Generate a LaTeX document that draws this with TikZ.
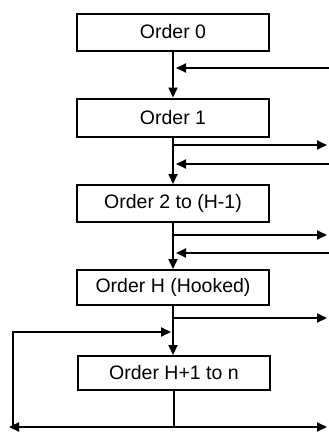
\documentclass[tikz,border=0pt]{standalone}
\usepackage{fontspec}
\setmainfont{Liberation Sans}
\usetikzlibrary{arrows.meta}
\begin{document}
\begin{tikzpicture}[x=1pt,y=-1pt,
  box/.style={draw,line width=2pt,minimum width=192pt,inner sep=0pt,font=\fontsize{19.5}{21}\selectfont},
  ln/.style={line width=2pt},
  ar/.style={ln,-{Triangle[length=10pt,width=9pt]}}]
\useasboundingbox (0,0) rectangle (329,432);
\node[box,minimum height=37pt] (b0) at (173,32) {Order 0};
\node[box,minimum height=38pt] (b1) at (173,117.5) {Order 1};
\node[box,minimum height=37pt] (b2) at (173,203.5) {Order 2 to (H-1)};
\node[box,minimum height=35pt] (bH) at (173,287.5) {Order H (Hooked)};
\node[box,minimum height=34pt] (bH1) at (174,373) {Order H+1 to n};
% right side coordinates
\coordinate (r0) at (329,68);
\coordinate (m0) at (176,68);
\coordinate (o1) at (327,145);
\coordinate (s1) at (173,145);
\coordinate (r1) at (329,164);
\coordinate (m1) at (176,164);
\coordinate (o2) at (327,235);
\coordinate (s2) at (173,235);
\coordinate (r2) at (329,253);
\coordinate (m2) at (176,253);
\coordinate (oH) at (327,318);
\coordinate (sH) at (173,318);
\coordinate (lc) at (13,332);
\coordinate (mH) at (171,332);
\coordinate (bt) at (174,427);
\coordinate (bl) at (9,427);
\coordinate (br) at (327,427);
\coordinate (blc) at (13,427);
% main flow
\draw[ar] (b0.south) -- (b1.north);
\draw[ar] (b1.south) -- (b2.north);
\draw[ar] (b2.south) -- (bH.north);
\draw[ar] (bH.south) -- (bH1.north -| bH.south);
\draw[ln] (bH1.south) -- (bt);
% feedback and branches
\draw[ar] (r0) -- (m0);
\draw[ar] (s1) -- (o1);
\draw[ar] (r1) -- (m1);
\draw[ar] (s2) -- (o2);
\draw[ar] (r2) -- (m2);
\draw[ar] (sH) -- (oH);
\draw[ar] (blc) -- (lc) -- (mH);
\draw[ar] (bt) -- (bl);
\draw[ar] (bt) -- (br);
\end{tikzpicture}
\end{document}
